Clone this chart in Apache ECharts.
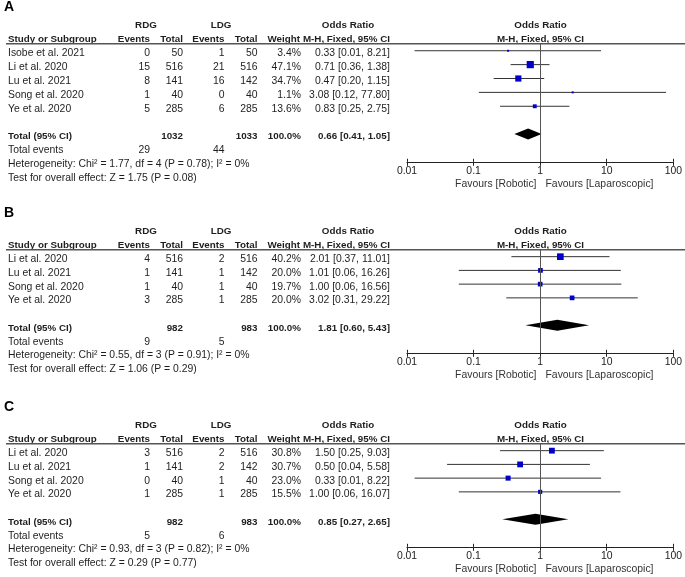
<!DOCTYPE html>
<html>
<head>
<meta charset="utf-8">
<script src="https://cdn.jsdelivr.net/npm/echarts@6/dist/echarts.min.js"></script>
<style>
html,body{margin:0;padding:0;background:#fff;}
#chart{width:685px;height:577px;}
</style>
</head>
<body>
<div id="chart"></div>
<script>
// ---------- DATA ----------
const tickLabels = ['0.01', '0.1', '1', '10', '100'];

// Panel A
const studiesA = ['Isobe et al. 2021', 'Li et al. 2020', 'Lu et al. 2021', 'Song et al. 2020', 'Ye et al. 2020'];
const rdgEventsA = [0, 15, 8, 1, 5];
const rdgTotalA = [50, 516, 141, 40, 285];
const ldgEventsA = [1, 21, 16, 0, 6];
const ldgTotalA = [50, 516, 142, 40, 285];
const weightA = [3.4, 47.1, 34.7, 1.1, 13.6];
const orA = [0.33, 0.71, 0.47, 3.08, 0.83];
const loA = [0.013, 0.36, 0.20, 0.12, 0.25];
const hiA = [8.21, 1.38, 1.15, 77.80, 2.75];
const totalOrA = [0.66, 0.41, 1.05];
const totalNA = [1032, 1033];
const totalEventsA = [29, 44];
const hetA = 'Heterogeneity: Chi\u00b2 = 1.77, df = 4 (P = 0.78); I\u00b2 = 0%';
const testA = 'Test for overall effect: Z = 1.75 (P = 0.08)';

// Panel B
const studiesB = ['Li et al. 2020', 'Lu et al. 2021', 'Song et al. 2020', 'Ye et al. 2020'];
const rdgEventsB = [4, 1, 1, 3];
const rdgTotalB = [516, 141, 40, 285];
const ldgEventsB = [2, 1, 1, 1];
const ldgTotalB = [516, 142, 40, 285];
const weightB = [40.2, 20.0, 19.7, 20.0];
const orB = [2.01, 1.01, 1.00, 3.02];
const loB = [0.37, 0.06, 0.06, 0.31];
const hiB = [11.01, 16.26, 16.56, 29.22];
const totalOrB = [1.81, 0.60, 5.43];
const totalNB = [982, 983];
const totalEventsB = [9, 5];
const hetB = 'Heterogeneity: Chi\u00b2 = 0.55, df = 3 (P = 0.91); I\u00b2 = 0%';
const testB = 'Test for overall effect: Z = 1.06 (P = 0.29)';

// Panel C
const studiesC = ['Li et al. 2020', 'Lu et al. 2021', 'Song et al. 2020', 'Ye et al. 2020'];
const rdgEventsC = [3, 1, 0, 1];
const rdgTotalC = [516, 141, 40, 285];
const ldgEventsC = [2, 2, 1, 1];
const ldgTotalC = [516, 142, 40, 285];
const weightC = [30.8, 30.7, 23.0, 15.5];
const orC = [1.50, 0.50, 0.33, 1.00];
const loC = [0.25, 0.04, 0.013, 0.06];
const hiC = [9.03, 5.58, 8.22, 16.07];
const totalOrC = [0.85, 0.27, 2.65];
const totalNC = [982, 983];
const totalEventsC = [5, 6];
const hetC = 'Heterogeneity: Chi\u00b2 = 0.93, df = 3 (P = 0.82); I\u00b2 = 0%';
const testC = 'Test for overall effect: Z = 0.29 (P = 0.77)';

// ---------- LAYOUT ----------
const FONT = '"Liberation Sans", Arial, sans-serif';
const panels = [
  {letter: 'A', top: 43.8, height: 118, studies: studiesA, rE: rdgEventsA, rT: rdgTotalA, lE: ldgEventsA, lT: ldgTotalA, w: weightA, or: orA, lo: loA, hi: hiA, tot: totalOrA, totN: totalNA, totEv: totalEventsA, het: hetA, test: testA},
  {letter: 'B', top: 249.8, height: 103, studies: studiesB, rE: rdgEventsB, rT: rdgTotalB, lE: ldgEventsB, lT: ldgTotalB, w: weightB, or: orB, lo: loB, hi: hiB, tot: totalOrB, totN: totalNB, totEv: totalEventsB, het: hetB, test: testB},
  {letter: 'C', top: 443.8, height: 103, studies: studiesC, rE: rdgEventsC, rT: rdgTotalC, lE: ldgEventsC, lT: ldgTotalC, w: weightC, or: orC, lo: loC, hi: hiC, tot: totalOrC, totN: totalNC, totEv: totalEventsC, het: hetC, test: testC}
];
const col = {study: 8, rE: 150, rT: 183, lE: 224.5, lT: 257.5, w: 300, ci: 390, rdgHead: 146, ldgHead: 221, orHead: 348, plotHead: 540.5};
const GRID_LEFT = 407, GRID_RIGHT = 10;

function txt(text, x, y, align, bold, size, color) {
  return {
    type: 'text', x: x, y: y, silent: true,
    style: {
      text: text, fill: color || '#1e1e1e',
      font: (bold ? 'bold ' : '') + (size || (bold ? 9.8 : 10.4)) + 'px ' + FONT,
      align: align || 'left', textAlign: align || 'left',
      verticalAlign: 'middle', textVerticalAlign: 'middle'
    }
  };
}
function fmtCI(o, l, h) { return o.toFixed(2) + ' [' + l.toFixed(2) + ', ' + h.toFixed(2) + ']'; }

const grids = [], xAxes = [], extraAxes = [], yAxes = [], series = [], graphics = [];

panels.forEach(function (p, g) {
  const n = p.studies.length;
  const unit = p.height / (n + 3.5);
  const rowY = function (i) { return p.top + (i + 0.5) * unit + 2.6; };
  const axisY = p.top + p.height;

  grids.push({left: GRID_LEFT, right: GRID_RIGHT, top: p.top, height: p.height});
  xAxes.push({
    type: 'log', logBase: 10, min: 0.01, max: 100, gridIndex: g,
    axisLine: {show: true, onZero: false, lineStyle: {color: '#222', width: 1.2}},
    axisTick: {show: true, length: 4, lineStyle: {color: '#222', width: 1}},
    splitLine: {show: false}, minorTick: {show: false},
    axisLabel: {
      show: true, margin: 4, fontSize: 10.4, color: '#222', fontFamily: FONT,
      formatter: function (v) { return tickLabels[Math.round(Math.log10(v)) + 2]; }
    }
  });
  // companion axis: upward half of the crossing tick marks
  extraAxes.push({
    type: 'log', logBase: 10, min: 0.01, max: 100, gridIndex: g, position: 'bottom',
    axisLine: {show: false, onZero: false},
    axisTick: {show: true, inside: true, length: 3, lineStyle: {color: '#222', width: 1}},
    splitLine: {show: false}, axisLabel: {show: false}
  });
  yAxes.push({type: 'value', gridIndex: g, inverse: true, min: -0.5, max: n + 3, show: false});

  // reference line at OR = 1
  series.push({
    type: 'scatter', xAxisIndex: g, yAxisIndex: g, data: [], z: 1, silent: true,
    markLine: {silent: true, symbol: 'none', label: {show: false},
      lineStyle: {color: '#555', width: 1, type: 'solid'}, data: [{xAxis: 1}]}
  });
  // studies: CI line + weighted square
  series.push({
    type: 'custom', xAxisIndex: g, yAxisIndex: g, z: 3, silent: true,
    encode: {x: [1, 2, 3], y: 0},
    data: p.studies.map(function (s, i) { return [i, p.or[i], p.lo[i], p.hi[i], p.w[i]]; }),
    renderItem: function (params, api) {
      const y = api.value(0);
      const pL = api.coord([api.value(2), y]);
      const pR = api.coord([api.value(3), y]);
      const pC = api.coord([api.value(1), y]);
      const s = Math.max(2, 1.05 * Math.sqrt(api.value(4)));
      return {type: 'group', children: [
        {type: 'line', shape: {x1: pL[0], y1: pL[1], x2: pR[0], y2: pR[1]}, style: {stroke: '#333', lineWidth: 1}},
        {type: 'rect', shape: {x: pC[0] - s / 2, y: pC[1] - s / 2, width: s, height: s}, style: {fill: '#0000CC'}}
      ]};
    }
  });
  // pooled diamond
  series.push({
    type: 'custom', xAxisIndex: g, yAxisIndex: g, z: 3, silent: true,
    encode: {x: [1, 2, 3], y: 0},
    data: [[n + 1, p.tot[0], p.tot[1], p.tot[2]]],
    renderItem: function (params, api) {
      const y = api.value(0);
      const c = api.coord([api.value(1), y]);
      const l = api.coord([api.value(2), y]);
      const r = api.coord([api.value(3), y]);
      const h = 5.5;
      return {type: 'polygon', shape: {points: [[l[0], c[1]], [c[0], c[1] - h], [r[0], c[1]], [c[0], c[1] + h]]}, style: {fill: '#000'}};
    }
  });

  // ----- table text -----
  graphics.push(txt(p.letter, 4, p.top - 36.5, 'left', true, 14, '#000'));
  const h1 = p.top - 19, h2 = p.top - 5;
  graphics.push(txt('RDG', col.rdgHead, h1, 'center', true));
  graphics.push(txt('LDG', col.ldgHead, h1, 'center', true));
  graphics.push(txt('Odds Ratio', col.orHead, h1, 'center', true));
  graphics.push(txt('Odds Ratio', col.plotHead, h1, 'center', true));
  graphics.push(txt('Study or Subgroup', col.study, h2, 'left', true));
  graphics.push(txt('Events', col.rE, h2, 'right', true));
  graphics.push(txt('Total', col.rT, h2, 'right', true));
  graphics.push(txt('Events', col.lE, h2, 'right', true));
  graphics.push(txt('Total', col.lT, h2, 'right', true));
  graphics.push(txt('Weight', col.w, h2, 'right', true));
  graphics.push(txt('M-H, Fixed, 95% CI', col.ci, h2, 'right', true));
  graphics.push(txt('M-H, Fixed, 95% CI', col.plotHead, h2, 'center', true));
  graphics.push({type: 'line', silent: true, shape: {x1: 6, y1: p.top, x2: 685, y2: p.top}, style: {stroke: '#555', lineWidth: 1.4}});

  p.studies.forEach(function (s, i) {
    const y = rowY(i);
    graphics.push(txt(s, col.study, y, 'left'));
    graphics.push(txt(String(p.rE[i]), col.rE, y, 'right'));
    graphics.push(txt(String(p.rT[i]), col.rT, y, 'right'));
    graphics.push(txt(String(p.lE[i]), col.lE, y, 'right'));
    graphics.push(txt(String(p.lT[i]), col.lT, y, 'right'));
    graphics.push(txt(p.w[i].toFixed(1) + '%', col.w + 1, y, 'right'));
    graphics.push(txt(fmtCI(p.or[i], p.lo[i], p.hi[i]), col.ci, y, 'right'));
  });
  const yt = rowY(n + 1);
  graphics.push(txt('Total (95% CI)', col.study, yt, 'left', true));
  graphics.push(txt(String(p.totN[0]), col.rT, yt, 'right', true));
  graphics.push(txt(String(p.totN[1]), col.lT, yt, 'right', true));
  graphics.push(txt('100.0%', col.w + 1, yt, 'right', true));
  graphics.push(txt(fmtCI(p.tot[0], p.tot[1], p.tot[2]), col.ci, yt, 'right', true));
  const ye = rowY(n + 2);
  graphics.push(txt('Total events', col.study, ye, 'left'));
  graphics.push(txt(String(p.totEv[0]), col.rE, ye, 'right'));
  graphics.push(txt(String(p.totEv[1]), col.lE, ye, 'right'));
  graphics.push(txt(p.het, col.study, rowY(n + 3), 'left'));
  graphics.push(txt(p.test, col.study, rowY(n + 4), 'left'));

  // favours labels
  graphics.push(txt('Favours [Robotic]', 536.5, axisY + 22.5, 'right', false, 10.4, '#333'));
  graphics.push(txt('Favours [Laparoscopic]', 545.5, axisY + 22.5, 'left', false, 10.4, '#333'));
});

const chart = echarts.init(document.getElementById('chart'), null, {renderer: 'canvas'});
chart.setOption({
  animation: false,
  backgroundColor: '#fff',
  grid: grids,
  xAxis: xAxes.concat(extraAxes),
  yAxis: yAxes,
  series: series,
  graphic: {elements: graphics}
});
</script>
</body>
</html>
